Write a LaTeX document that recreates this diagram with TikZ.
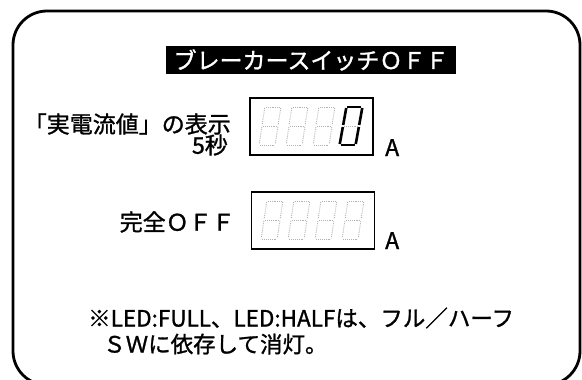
\documentclass[tikz,border=0pt]{standalone}
\usepackage{fontspec}
\setmainfont{Noto Sans CJK JP}[FakeBold=1.2]

\begin{document}
\begin{tikzpicture}[x=1pt,y=-1pt,
  frame/.style={line width=2.8pt,rounded corners=34pt},
  dispbox/.style={draw,line width=1.5pt,minimum width=123pt,minimum height=57pt,inner sep=0pt},
  segoff/.style={gray!60,densely dotted,line width=0.9pt},
  segon/.style={black,line width=2.6pt},
  jp/.style={inner sep=0pt,font=\fontsize{23}{23}\selectfont},
  unit/.style={inner sep=0pt,anchor=base west,font=\fontsize{23}{23}\selectfont},
  note/.style={inner sep=0pt,font=\fontsize{22.5}{22.5}\selectfont}]
  \useasboundingbox (0,0) rectangle (582,380);
  \clip (0,0) rectangle (582,380);
  % frame
  \draw[frame] (13,11) rectangle (580,385);
  % title
  \node[fill=black,text=white,minimum width=290pt,minimum height=28pt,inner sep=0pt,
        font=\fontsize{23}{23}\selectfont] (title) at (311,60) {ブレーカースイッチＯＦＦ};
  % real current display
  \node[jp,anchor=east] (realcur) at (231,124) {「実電流値」の表示};
  \node[jp,anchor=east] (fivesec) at (228,145) {5秒};
  \node[dispbox] (dispA) at (311.5,126.5) {};
  \node[unit] (unitA) at (385,156) {A};
  \foreach \cx in {270,297,324} {
    \begin{scope}[shift={(\cx,126)},xslant=0.15]
      \foreach \ax/\ay/\bx/\by in {-7/-19/7/-19,8/-18/8/-1,8/1/8/18,-7/19/7/19,-8/1/-8/18,-8/-18/-8/-1,-7/0/7/0}
        \draw[segoff] (\ax,\ay) -- (\bx,\by);
    \end{scope}
  }
  \begin{scope}[shift={(351,126)},xslant=0.18]
    \foreach \ax/\ay/\bx/\by in {-7/-19/7/-19,8/-18/8/-1,8/1/8/18,-7/19/7/19,-8/1/-8/18,-8/-18/-8/-1}
      \draw[segon] (\ax,\ay) -- (\bx,\by);
    \draw[segoff] (-7,0) -- (7,0);
  \end{scope}
  % complete off display
  \node[jp,anchor=east] (fulloff) at (235,222) {完全ＯＦＦ};
  \node[dispbox] (dispB) at (313,220.5) {};
  \node[unit] (unitB) at (385,249) {A};
  \foreach \cx in {272,299,326,353} {
    \begin{scope}[shift={(\cx,220)},xslant=0.15]
      \foreach \ax/\ay/\bx/\by in {-7/-19/7/-19,8/-18/8/-1,8/1/8/18,-7/19/7/19,-8/1/-8/18,-8/-18/-8/-1,-7/0/7/0}
        \draw[segoff] (\ax,\ay) -- (\bx,\by);
    \end{scope}
  }
  % note
  \node[note,anchor=west] (noteA) at (88,318) {※LED:FULL、LED:HALFは、フル／ハーフ};
  \node[note,anchor=west] (noteB) at (103,344) {ＳＷに依存して消灯。};
\end{tikzpicture}
\end{document}
